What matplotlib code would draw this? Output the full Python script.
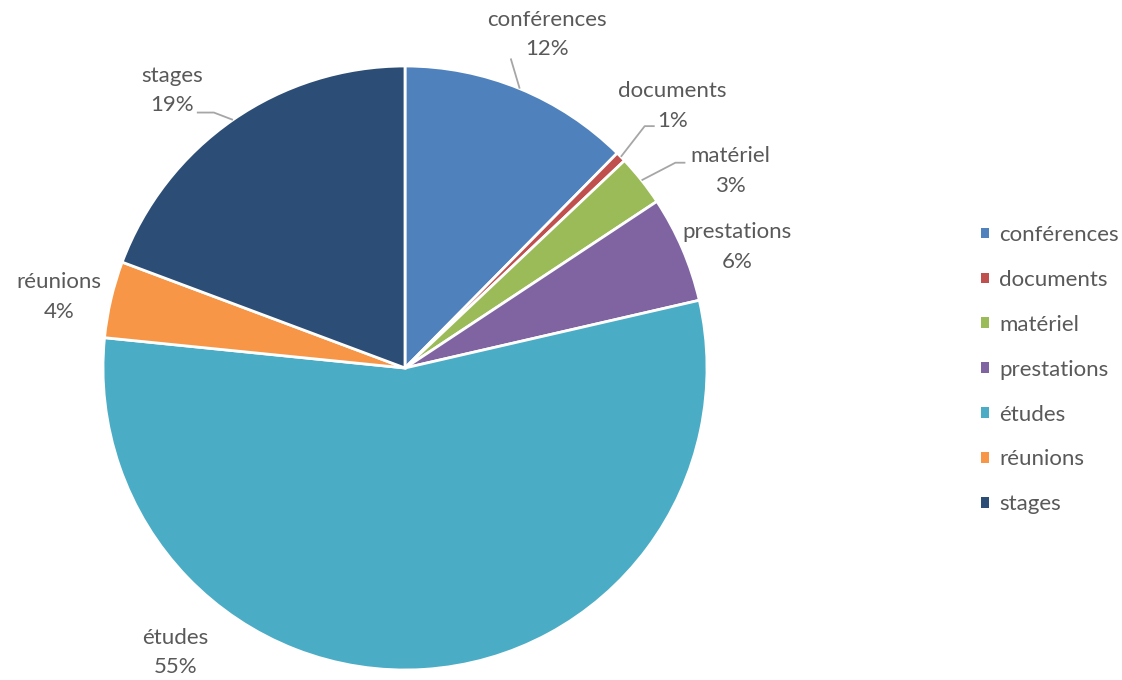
import numpy as np
import matplotlib.pyplot as plt

categories = ["conférences", "documents", "matériel", "prestations", "études", "réunions", "stages"]
shares = [12.4, 0.55, 2.75, 5.7, 55.2, 4.1, 19.3]
colors = ["#4F81BD", "#C0504D", "#9BBB59", "#8064A2", "#4BACC6", "#F79646", "#2C4D75"]

# label layout: (angle shift clockwise in deg, radius factor)
label_layout = {
    "conférences": (0.7, 1.20),
    "documents": (0.0, 1.24),
    "matériel": (7.2, 1.26),
    "prestations": (3.2, 1.17),
    "études": (42.5, 1.21),
    "réunions": (-1.5, 1.17),
    "stages": (-5.3, 1.20),
}
# leader lines: end offset from label centre (px, y up) and horizontal tail
leaders = {
    "conférences": ((-36, -24), 0),
    "documents": ((-28, -20), 10),
    "matériel": ((-55, 8), 10),
    "stages": ((42, -22), -17),
}

plt.rcParams['font.family'] = ['Lato', 'DejaVu Sans']
txt_color = "#595959"
fs = 16
W, H = 1122, 680
fig = plt.figure(figsize=(W / 100, H / 100), dpi=100)
ax = fig.add_axes([0, 0, 1, 1])

cx, cy, R = 405, H - 368, 302
wedges, _ = ax.pie(shares, colors=colors, startangle=90, counterclock=False,
                   center=(cx, cy), radius=R,
                   wedgeprops=dict(edgecolor="white", linewidth=2))
ax.set_xlim(0, W)
ax.set_ylim(0, H)
ax.set_aspect("equal")
ax.axis("off")

total = sum(shares)
for w, name, v in zip(wedges, categories, shares):
    mid = (w.theta1 + w.theta2) / 2
    shift, rf = label_layout[name]
    a = np.deg2rad(mid - shift)
    lx, ly = cx + rf * R * np.cos(a), cy + rf * R * np.sin(a)
    pct = int(v / total * 100 + 0.5)
    ax.text(lx, ly, f"{name}\n{pct}%", ha="center", va="center",
            fontsize=fs, color=txt_color, linespacing=1.6)
    if name in leaders:
        (ox, oy), tail = leaders[name]
        m = np.deg2rad(mid)
        ex, ey = cx + R * np.cos(m), cy + R * np.sin(m)
        px, py = lx + ox, ly + oy
        ax.plot([ex, px, px + tail], [ey, py, py], color="#A6A6A6", lw=1.3,
                solid_capstyle="butt")

leg = ax.legend(wedges, categories, loc="upper left",
                bbox_to_anchor=(981 / W, 1 - 225 / H), bbox_transform=fig.transFigure,
                frameon=False, fontsize=fs, labelcolor=txt_color,
                handlelength=0.37, handleheight=0.37, handletextpad=0.45,
                labelspacing=1.12, borderpad=0, borderaxespad=0)
for h in leg.legend_handles:
    h.set_edgecolor("none")

fig.savefig("out.png", dpi=100)
